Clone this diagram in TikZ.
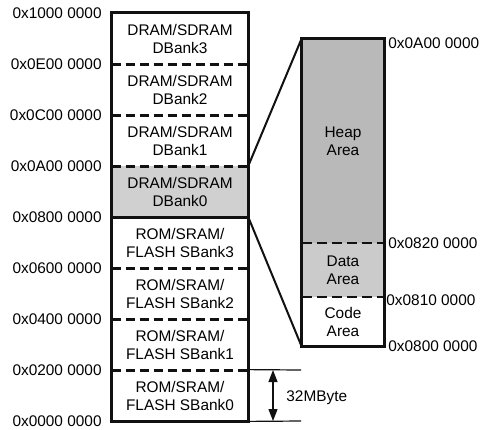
\documentclass[tikz,border=0pt]{standalone}
\usepackage{fontspec}
\setmainfont{Liberation Sans}
\usetikzlibrary{arrows.meta,positioning}
\definecolor{ink}{HTML}{111111}
\definecolor{heapgray}{HTML}{B9B9B9}
\definecolor{datagray}{HTML}{CBCBCB}
\definecolor{bankgray}{HTML}{D0D0D0}
\tikzset{
  bank/.style={inner sep=0pt,minimum width=68pt,minimum height=25.5pt,align=center,
    font=\fontsize{7.7}{9}\selectfont},
  area/.style={inner sep=0pt,minimum width=41pt,align=center,font=\fontsize{7.7}{9}\selectfont},
  addr/.style={inner sep=0pt,font=\fontsize{7.7}{9}\selectfont},
  outline/.style={line width=1.5pt,draw=ink},
  banksep/.style={line width=1.5pt,draw=ink,dash pattern=on 4.5pt off 2.5pt},
  areasep/.style={line width=1pt,draw=ink,dash pattern=on 5pt off 2.5pt},
  zoomline/.style={line width=1pt,draw=ink},
  dimline/.style={line width=0.6pt,draw=ink}
}

\begin{document}
\begin{tikzpicture}[x=0.5pt,y=-0.5pt]
\useasboundingbox (0,0) rectangle (486,429);
% memory map
\node[bank] (dbank3) at (180,38.5) {DRAM/SDRAM\\DBank3};
\node[bank] (dbank2) at (180,89.5) {DRAM/SDRAM\\DBank2};
\node[bank] (dbank1) at (180,140.5) {DRAM/SDRAM\\DBank1};
\node[bank,fill=bankgray] (dbank0) at (180,191.5) {DRAM/SDRAM\\DBank0};
\node[bank] (sbank3) at (180,242.5) {ROM/SRAM/\\FLASH SBank3};
\node[bank] (sbank2) at (180,293.5) {ROM/SRAM/\\FLASH SBank2};
\node[bank] (sbank1) at (180,344.5) {ROM/SRAM/\\FLASH SBank1};
\node[bank] (sbank0) at (180,395.5) {ROM/SRAM/\\FLASH SBank0};
\draw[outline] (dbank3.north west) rectangle (sbank0.south east);
\foreach \b in {dbank3,dbank2,dbank1,sbank3,sbank2,sbank1}
  \draw[banksep] (\b.south west) -- (\b.south east);
\draw[outline] (dbank0.south west) -- (dbank0.south east);
\foreach \y/\txt in {13/0x1000 0000,64/0x0E00 0000,115/0x0C00 0000,166/0x0A00 0000,
    217/0x0800 0000,268/0x0600 0000,319/0x0400 0000,370/0x0200 0000,421/0x0000 0000}
  \node[addr,anchor=east] (a\y) at (102,\y) {\txt};
% DBank0 detail
\node[area,fill=heapgray,minimum height=102pt] (heap) at (343,141) {Heap\\Area};
\node[area,fill=datagray,minimum height=27pt] (data) at (343,270) {Data\\Area};
\node[area,minimum height=24.5pt] (code) at (343,321.5) {Code\\Area};
\draw[outline] (heap.north west) rectangle (code.south east);
\draw[areasep] (heap.south west) -- (heap.south east);
\draw[areasep] (data.south west) -- (data.south east);
\node[addr,anchor=west] (heaptop) at (388,43) {0x0A00 0000};
\node[addr,anchor=west] (datatop) at (388,243) {0x0820 0000};
\node[addr,anchor=west] (codetop) at (386,300) {0x0810 0000};
\node[addr,anchor=west] (codebot) at (388,346) {0x0800 0000};
\draw[zoomline] (dbank0.north east) -- (heap.north west);
\draw[zoomline] (dbank0.south east) -- (code.south west);
% bank size
\coordinate (dimtop) at (301,370);
\coordinate (dimbot) at (301,421);
\coordinate (arrtop) at (273,370);
\coordinate (arrbot) at (273,421);
\draw[dimline] (sbank0.north east) -- (dimtop);
\draw[dimline] (sbank0.south east) -- (dimbot);
\draw[dimline,{Triangle[length=6pt,width=4.5pt]}-{Triangle[length=6pt,width=4.5pt]}] (arrtop) -- (arrbot);
\node[addr,anchor=west] (banksize) at (286,398) {32MByte};
\end{tikzpicture}
\end{document}
